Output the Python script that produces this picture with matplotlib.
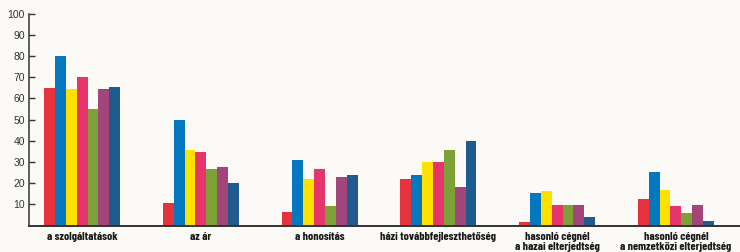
import numpy as np
from matplotlib import pyplot as plt

categories = ["a szolgáltatások", "az ár", "a honosítás", "házi továbbfejleszthetőség",
              "hasonló cégnél\na hazai elterjedtség", "hasonló cégnél\na nemzetközi elterjedtség"]

# seven series per category (colours in drawing order)
red = [65, 10.8, 6.6, 22.2, 1.5, 12.7]
blue = [80.2, 49.7, 31.1, 24.0, 15.5, 25.2]
yellow = [64.4, 35.8, 22.0, 30.1, 16.3, 17.0]
pink = [70, 34.7, 26.9, 30.1, 9.7, 9.2]
green = [55, 26.9, 9.1, 35.5, 9.7, 6.1]
purple = [64.4, 27.7, 23.1, 18.0, 9.7, 9.7]
darkblue = [65.4, 20.3, 24.0, 39.7, 4.0, 2.0]

series = [red, blue, yellow, pink, green, purple, darkblue]
colors = ["#e6323c", "#0478bf", "#ffe100", "#e6356a", "#7da136", "#a2457a", "#1f5b8f"]

bg = "#fbfaf6"
fig = plt.figure(figsize=(7.4, 2.52), dpi=100, facecolor=bg)
ax = fig.add_axes([0.0392, 0.105, 0.9608, 0.8407], facecolor=bg)

x = np.arange(len(categories))
w = 0.0915
for i, vals in enumerate(series):
    ax.bar(x + (i - 3) * w, vals, width=w, color=colors[i], linewidth=0)

ax.set_xlim(-0.447, 5.54)
ax.set_ylim(0, 100)
ax.set_yticks(np.arange(10, 101, 10))
ax.set_xticks(x)
ax.set_xticklabels(categories, family=["Barlow Condensed", "DejaVu Sans"],
                   fontweight="bold", fontsize=8.5, linespacing=1.02, color="#1a1a1a")
ax.tick_params(axis="x", length=0, pad=4.5)
ax.tick_params(axis="y", direction="in", length=4.5, width=1, color="#333333",
               labelsize=7.5, pad=3, labelcolor="#333333")
for lab in ax.get_yticklabels():
    lab.set_family(["Liberation Sans", "DejaVu Sans"])

for s in ["top", "right"]:
    ax.spines[s].set_visible(False)
ax.spines["left"].set_color("#333333")
ax.spines["left"].set_linewidth(1.1)
ax.spines["bottom"].set_color("#333333")
ax.spines["bottom"].set_linewidth(1.4)

plt.savefig("out.png", dpi=100, facecolor=bg)
